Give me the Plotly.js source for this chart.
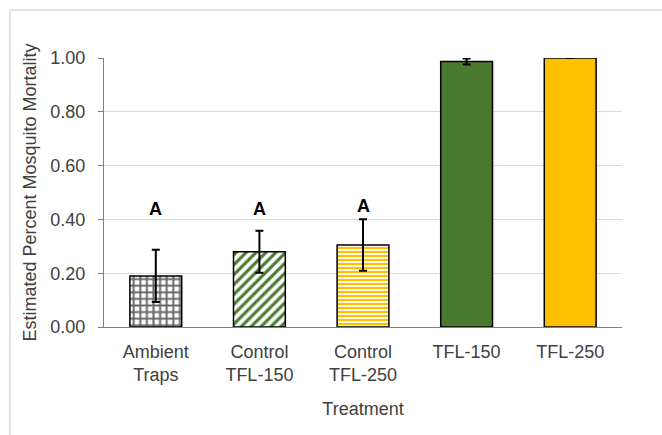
<!DOCTYPE html>
<html>
<head>
<meta charset="utf-8">
<script src="https://cdn.plot.ly/plotly-3.0.1.min.js"></script>
<style>html,body{margin:0;padding:0;background:#fff;}#chart{width:662px;height:435px;}</style>
</head>
<body>
<div id="chart"></div>
<script>
const categories = ["Ambient<br>Traps", "Control<br>TFL-150", "Control<br>TFL-250", "TFL-150", "TFL-250"];
const mortality = [0.19, 0.28, 0.305, 0.987, 1.00];
const errors = [0.097, 0.078, 0.096, 0.011, 0.0];
const letters = ["A", "A", "A", "B", "B"];
const letterY = [0.44, 0.44, 0.45, 1.105, 1.11];

const fillColors = ["#ffffff", "#ffffff", "#ffffff", "#4a7a2e", "#ffc000"];
const patternShapes = ["+", "/", "-", "", ""];
const patternColors = ["#666666", "#4a7a2e", "#ffc000", "#000000", "#000000"];
const patternSizes = [6.6, 7, 4, 8, 8];
const patternSolidity = [0.5, 0.45, 0.55, 0.3, 0.3];

const traces = categories.map((c, i) => ({
  type: "bar",
  x: [c],
  y: [mortality[i]],
  width: 0.5,
  marker: {
    color: fillColors[i],
    pattern: {
      shape: patternShapes[i],
      fgcolor: patternColors[i],
      bgcolor: fillColors[i],
      size: patternSizes[i],
      solidity: patternSolidity[i],
      fillmode: "replace"
    },
    line: {color: "#000000", width: 1.5}
  },
  error_y: {type: "data", array: [errors[i]], visible: true, color: "#000000", thickness: 2, width: 4},
  hoverinfo: "none"
}));

const annotations = categories.map((c, i) => ({
  x: c, y: letterY[i], xref: "x", yref: "y", text: "<b>" + letters[i] + "</b>",
  showarrow: false, font: {family: "Liberation Sans, Arial, sans-serif", size: 18, color: "#000"}
}));

const layout = {
  width: 662, height: 435,
  margin: {l: 104, r: 40, t: 58, b: 108},
  paper_bgcolor: "#ffffff", plot_bgcolor: "#ffffff",
  font: {family: "Liberation Sans, Arial, sans-serif", size: 18, color: "#404040"},
  showlegend: false,
  barmode: "overlay",
  xaxis: {
    type: "category",
    categoryorder: "array", categoryarray: categories,
    showline: true, linecolor: "#7f7f7f", linewidth: 1,
    ticks: "", showgrid: false,
    ticklabelstandoff: 8,
    tickfont: {size: 18, color: "#404040"},
    title: {text: "Treatment", font: {size: 18, color: "#404040"}, standoff: 18},
    fixedrange: true
  },
  yaxis: {
    range: [0, 1.0],
    dtick: 0.2, tickformat: ".2f",
    showline: true, linecolor: "#7f7f7f", linewidth: 1,
    ticks: "outside", ticklen: 5, tickcolor: "#7f7f7f",
    ticklabelstandoff: 9,
    showgrid: true, gridcolor: "#d9d9d9", gridwidth: 1,
    zeroline: false,
    tickfont: {size: 18, color: "#404040"},
    title: {text: "Estimated Percent Mosquito Mortality", font: {size: 18, color: "#404040"}, standoff: 9},
    fixedrange: true
  },
  annotations: annotations,
  shapes: [
    {type: "line", xref: "paper", yref: "paper", x0: -0.1815, x1: 1.2, y0: 1.178, y1: 1.178, line: {color: "#d9d9d9", width: 1.5}},
    {type: "line", xref: "paper", yref: "paper", x0: -0.1815, x1: -0.1815, y0: 1.178, y1: -0.41, line: {color: "#d9d9d9", width: 1.5}}
  ]
};

Plotly.newPlot("chart", traces, layout, {displayModeBar: false, staticPlot: true});
</script>
</body>
</html>
